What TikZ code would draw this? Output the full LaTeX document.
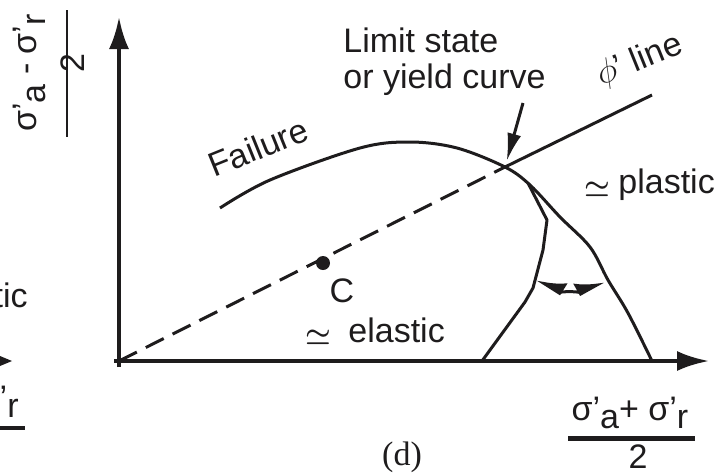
\documentclass[tikz,border=0pt]{standalone}
\usepackage{fontspec}
\setmainfont{Liberation Sans}
\newfontfamily\capfont{Liberation Serif}
\usetikzlibrary{arrows.meta}
\definecolor{inkcolor}{RGB}{30,28,29}
\newcommand{\lowsub}[1]{\raisebox{-0.45ex}{#1}}

\begin{document}
\begin{tikzpicture}[
    x=0.5pt, y=-0.5pt,
    >=Latex,
    lbl/.style={font=\fontsize{17}{20}\selectfont, inner sep=0pt, text=inkcolor},
    approx/.style={font=\fontsize{15}{17}\selectfont\boldmath, inner sep=0pt, text=inkcolor},
    axis/.style={line width=2pt, draw=inkcolor, -{Latex[length=16pt,width=10pt]}},
    curve/.style={line width=1.5pt, draw=inkcolor, line join=round},
    dot/.style={circle, fill=inkcolor, inner sep=0pt, minimum size=7pt}
]

% Frame: 719 x 473 px, y running downwards
\useasboundingbox (0,0) rectangle (719,473);
\clip (0,0) rectangle (719,473);

% Key points
\coordinate (O) at (119,361);
\coordinate (Ybase) at (119,367);
\coordinate (Ytip) at (119,17);
\coordinate (Xbase) at (114,361);
\coordinate (Xtip) at (709,361);
\coordinate (Lim) at (505,167);
\coordinate (Phi) at (652,95);

% Axes
\draw[axis] (Ybase) -- (Ytip);
\draw[axis] (Xbase) -- (Xtip);

% Stress ratio line: dashed up to the limit state, solid beyond
\draw[curve, dash pattern=on 10pt off 5pt] (O) -- (Lim);
\draw[curve] (Lim) -- (Phi);

% Failure / limit state curve
\draw[curve] plot[smooth, tension=0.55] coordinates {(220,208) (270,180) (360,148) (410,142) (457,148) (505,167) (530,185) (560,217) (590,247) (608,280) (628,313) (652,361)};

% Stress path
\draw[curve] (528,183) -- (547,220) -- (543,250) -- (533,288) -- (525,302) -- (482,361);

% Angle arc (y is flipped, so the harpoon sides are swapped)
\coordinate (ArcL) at (537,279);
\coordinate (ArcR) at (604,281);
\draw[curve, {Latex[harpoon,swap,length=12pt,width=13pt]}-{Latex[harpoon,length=12pt,width=13pt]}] (ArcL) .. controls (556,291) and (586,291) .. (ArcR);

% Point C
\node[dot] (C) at (323,263) {};
\node[lbl] (Clbl) at (342,291) {C};

% Labels
\node[lbl, anchor=base west, rotate=22] (failure) at (214,178) {Failure};
\node[lbl, anchor=base west] (limit) at (343,52) {Limit state};
\node[lbl, anchor=base west] (yield) at (343,88) {or yield curve};
\coordinate (LimArr) at (523,103);
\draw[line width=1.5pt, draw=inkcolor, -{Latex[length=14pt,width=7pt]}, shorten >=3pt] (LimArr) -- (Lim);
\node[lbl, anchor=base west, rotate=22] (philine) at (601,86) {$\phi$' line};

\node[lbl, anchor=base west] (plastic) at (618,193) {plastic};
\node[approx, anchor=base east] (simP) at (611,196) {$\simeq$};
\node[lbl, anchor=base west] (elastic) at (348,342) {elastic};
\node[approx, anchor=base east] (simE) at (332,344) {$\simeq$};

% Axis labels
\node[lbl, anchor=base] (xnum) at (630,420) {σ'\lowsub{a}+ σ'\lowsub{r}};
\draw[line width=2.5pt, draw=inkcolor] (568,438) -- (695,438);
\node[lbl, anchor=base] (xden) at (638,468) {2};

\node[lbl, anchor=base, rotate=90] (ynum) at (37,73) {σ'\lowsub{a} - σ'\lowsub{r}};
\draw[line width=1.2pt, draw=inkcolor] (67,10) -- (67,137);
\node[lbl, anchor=base, rotate=90] (yden) at (84,63) {2};

% Panel tag
\node[font=\capfont\fontsize{17}{20}\selectfont, inner sep=0pt, text=inkcolor, anchor=base] (panel) at (402,465) {(d)};

% Edge of the neighbouring panel
\node[lbl, anchor=base east] (tic) at (28,307) {tic};
\fill[inkcolor] (0,356) -- (12,361) -- (0,366) -- cycle;
\node[lbl, anchor=base east] (rfrag) at (19,409) {'\lowsub{r}};
\draw[line width=2pt, draw=inkcolor] (0,428) -- (25,428);

\end{tikzpicture}
\end{document}
